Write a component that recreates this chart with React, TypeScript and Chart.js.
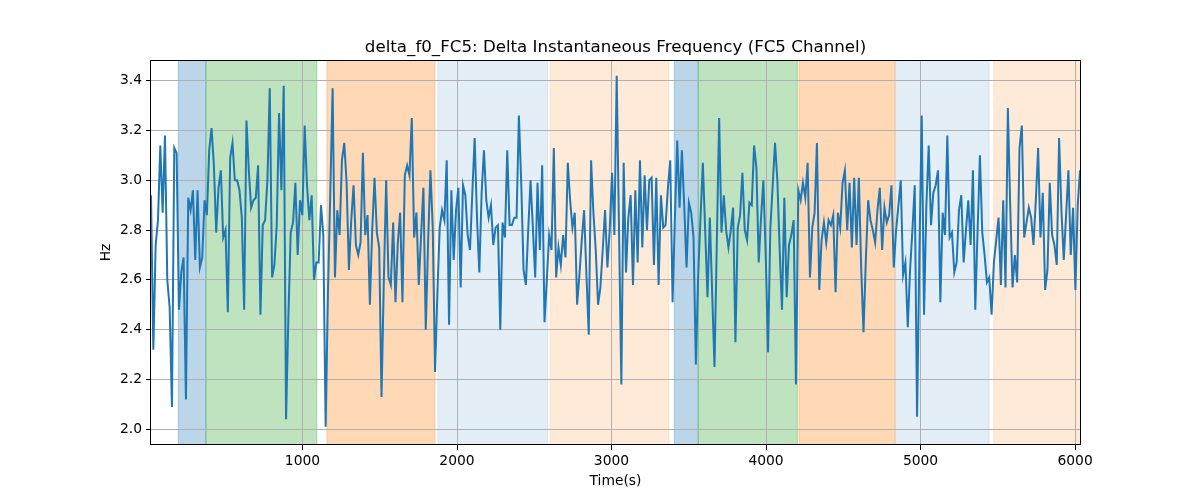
import React, { useEffect, useRef } from 'react';
import { Chart, registerables } from 'chart.js';

Chart.register(...registerables);

const TITLE = 'delta_f0_FC5: Delta Instantaneous Frequency (FC5 Channel)';
const X_LABEL = 'Time(s)';
const Y_LABEL = 'Hz';

// sampling grid of the signal (seconds)
const T_START = 19.4;
const T_STEP = 15.07;
const X_MIN = 19.4;
const X_MAX = 6032;
const Y_MIN = 1.937;
const Y_MAX = 3.483;

const deltaF0 = [
  2.94, 2.32, 2.74, 2.84, 3.14, 2.87, 3.18, 2.60, 2.49, 2.09,
  3.13, 3.11, 2.48, 2.63, 2.69, 2.12, 2.93, 2.88, 2.96, 2.68,
  2.96, 2.65, 2.69, 2.92, 2.86, 3.12, 3.21, 3.06, 2.79, 2.97,
  3.04, 2.77, 2.80, 2.47, 3.09, 3.15, 3.00, 3.00, 2.96, 2.85,
  2.48, 3.24, 3.04, 2.89, 2.92, 2.93, 3.06, 2.46, 2.82, 2.84,
  3.00,
  3.37, 2.61, 2.66, 2.82, 3.27, 2.96, 3.38, 2.04, 2.45, 2.79,
  2.83, 2.99, 2.70, 2.92, 2.86, 3.22, 2.98, 2.84, 2.94, 2.60,
  2.67, 2.67, 2.90, 2.78, 2.01, 2.55, 2.95, 3.37, 2.61, 2.88,
  2.78, 3.08, 3.15, 2.99, 2.64, 2.84, 2.98, 2.74, 2.70, 2.75,
  3.11, 2.78, 2.86, 2.50, 2.80, 3.01, 2.79, 2.73, 2.13, 2.60,
  3.00,
  2.61, 2.58, 2.83, 2.51, 2.75, 2.87, 2.51, 3.02, 3.06, 3.02,
  3.25, 2.77, 2.87, 2.58, 2.78, 2.97, 2.40, 2.75, 3.04, 2.81,
  2.23, 2.55, 2.81, 2.88, 2.84, 3.08, 2.42, 2.96, 2.68, 2.88,
  2.97, 2.57, 2.98, 2.94, 2.78, 2.72, 2.95, 3.17, 2.85, 2.63,
  2.95, 3.12, 2.92, 2.85, 2.90, 2.74, 2.81, 2.82, 2.40, 2.83,
  2.77, 3.12, 2.82, 2.82, 2.85, 2.85, 3.26, 2.99, 2.64, 2.58,
  2.80, 3.00, 2.81, 2.61, 2.99, 2.72, 3.06, 2.43, 2.60, 2.78,
  2.72, 3.13, 2.61, 2.73, 2.66, 2.78, 2.69, 3.07, 2.92, 2.81,
  2.87, 2.50,
  2.62, 2.76, 2.88, 2.62, 2.38, 3.08, 2.87, 2.72, 2.50, 2.57,
  2.72, 2.88, 2.65, 2.80, 3.03, 2.78, 3.42, 2.80, 2.18, 3.07,
  2.63, 2.85, 2.94, 2.58, 2.96, 2.67, 3.08, 2.73, 3.02, 2.80,
  3.00, 3.01, 2.66, 3.01, 2.58, 2.94, 2.81, 2.82, 2.97, 3.08,
  2.51, 2.85, 3.16,
  2.89, 3.12, 2.90, 2.65, 2.91, 2.87, 2.77, 2.26, 2.62, 2.85,
  3.07, 2.80, 2.53, 2.85, 2.55, 2.25, 2.75, 3.25, 2.79, 2.94,
  2.80, 2.73, 2.80, 2.89, 2.35, 2.81, 2.86, 3.03, 2.80, 2.76,
  2.91, 2.90, 3.14, 3.05, 2.67, 2.85, 3.00, 2.70, 2.31, 2.81,
  2.98, 3.15, 3.00, 2.72, 2.48, 2.93, 2.53,
  2.74, 2.78, 2.84, 2.18, 2.96, 2.92, 2.99, 2.93, 3.07, 2.61,
  2.81, 2.87, 3.15, 2.56, 2.76, 2.83, 2.75, 2.84, 2.82, 2.86,
  2.55, 2.87, 2.81, 2.99, 3.04, 2.80, 2.99, 2.73, 3.01, 2.74,
  3.01, 2.65, 2.39, 2.68, 2.92, 2.84, 2.80, 2.75, 2.88, 2.97,
  2.72, 2.89, 2.83, 2.86, 2.98, 2.65, 2.80, 2.90, 3.00, 2.62,
  2.67, 2.41, 2.64, 2.80, 2.98, 2.05, 2.70, 3.26, 2.46, 2.90,
  3.14, 2.82, 2.95, 2.98, 3.04, 2.51, 2.87, 2.78, 3.18, 2.77,
  2.79, 2.63, 2.67, 2.88, 2.94, 2.67, 2.80, 2.92, 2.74, 3.04,
  2.48, 2.80, 3.10,
  2.79, 2.70, 2.59, 2.61, 2.46, 2.67, 2.76, 2.85, 2.58, 2.92,
  2.57, 3.29, 2.90, 2.57, 2.70, 2.59, 3.13, 3.22, 2.77, 2.83,
  2.89, 2.85, 2.74, 2.92, 3.13, 2.77, 2.95, 2.56, 2.64, 2.99,
  2.78, 2.74, 2.66, 3.17, 2.88, 2.68, 2.86, 3.04, 2.70, 2.89,
  2.56, 2.90, 3.04,
];

const xTicks = [1000, 2000, 3000, 4000, 5000, 6000];
const yTicks = [2.0, 2.2, 2.4, 2.6, 2.8, 3.0, 3.2, 3.4];

// shaded segments
const spanStart = [196, 375, 1158, 1876, 2602, 3406, 3561, 4213, 4838, 5474];
const spanEnd = [375, 1093, 1858, 2587, 3372, 3561, 4203, 4834, 5444, 6100];
const spanKind = ['blue', 'green', 'orange', 'lightblue', 'lightorange', 'blue', 'green', 'orange', 'lightblue', 'lightorange'];

const spanColors: Record<string, string> = {
  blue: 'rgba(31,119,180,0.3)',
  green: 'rgba(44,160,44,0.3)',
  orange: 'rgba(255,127,14,0.3)',
  lightblue: 'rgba(31,119,180,0.12)',
  lightorange: 'rgba(255,127,14,0.16)',
};

const FONT = 'DejaVu Sans';

const spansPlugin = {
  id: 'spans',
  beforeDraw(chart: any) {
    const { ctx, chartArea, scales } = chart;
    ctx.save();
    ctx.fillStyle = '#fff';
    ctx.fillRect(0, 0, chart.width, chart.height);
    ctx.beginPath();
    ctx.rect(chartArea.left, chartArea.top, chartArea.right - chartArea.left, chartArea.bottom - chartArea.top);
    ctx.clip();
    for (let i = 0; i < spanStart.length; i++) {
      const x0 = scales.x.getPixelForValue(spanStart[i]);
      const x1 = scales.x.getPixelForValue(spanEnd[i]);
      const c = spanColors[spanKind[i]];
      ctx.fillStyle = c;
      ctx.fillRect(x0, chartArea.top, x1 - x0, chartArea.bottom - chartArea.top);
      ctx.strokeStyle = c;
      ctx.lineWidth = 1;
      ctx.strokeRect(x0, chartArea.top, x1 - x0, chartArea.bottom - chartArea.top);
    }
    ctx.restore();
  },
  afterDraw(chart: any) {
    const { ctx, chartArea } = chart;
    ctx.save();
    ctx.strokeStyle = '#000';
    ctx.lineWidth = 1;
    ctx.strokeRect(
      Math.round(chartArea.left) - 0.5,
      Math.round(chartArea.top) + 0.5,
      Math.round(chartArea.right - chartArea.left) + 1,
      Math.round(chartArea.bottom - chartArea.top) - 1
    );
    const cx = (chartArea.left + chartArea.right) / 2;
    ctx.fillStyle = '#000';
    ctx.textAlign = 'center';
    ctx.textBaseline = 'alphabetic';
    ctx.font = `16.67px "${FONT}"`;
    ctx.fillText(TITLE, cx, 52);
    ctx.textBaseline = 'middle';
    ctx.font = `13.89px "${FONT}"`;
    ctx.fillText(X_LABEL, cx, 481);
    ctx.translate(106, (chartArea.top + chartArea.bottom) / 2);
    ctx.rotate(-Math.PI / 2);
    ctx.fillText(Y_LABEL, 0, 0);
    ctx.restore();
  },
};

const DeltaF0Chart = () => {
  const chartRef = useRef<HTMLCanvasElement | null>(null);

  useEffect(() => {
    if (!chartRef.current) return;
    const ctx = chartRef.current.getContext('2d');
    if (!ctx) return;

    Chart.defaults.font.family = FONT;
    Chart.defaults.font.size = 13.89;
    Chart.defaults.color = '#000';

    const points = deltaF0.map((v, i) => ({ x: T_START + i * T_STEP, y: v }));

    const myChart = new Chart(ctx, {
      type: 'line',
      data: {
        datasets: [{
          label: 'delta_f0_FC5',
          data: points,
          borderColor: '#1f77b4',
          borderWidth: 2,
          pointRadius: 0,
          tension: 0,
          fill: false,
        }],
      },
      options: {
        responsive: false,
        animation: false,
        devicePixelRatio: 1,
        layout: { padding: { left: 0, right: 120, top: 60, bottom: 0 } },
        plugins: {
          legend: { display: false },
          title: { display: false },
          tooltip: { enabled: false },
        },
        scales: {
          x: {
            type: 'linear',
            min: X_MIN,
            max: X_MAX,
            afterBuildTicks: (axis: any) => { axis.ticks = xTicks.map((v) => ({ value: v })); },
            afterFit: (axis: any) => { axis.height = 55; },
            ticks: { autoSkip: false, maxRotation: 0, padding: 3, callback: (v: any) => String(v) },
            grid: { color: '#b0b0b0', lineWidth: 1, tickLength: 5, tickColor: '#000' },
            border: { display: false },
          },
          y: {
            type: 'linear',
            min: Y_MIN,
            max: Y_MAX,
            afterBuildTicks: (axis: any) => { axis.ticks = yTicks.map((v) => ({ value: v })); },
            afterFit: (axis: any) => { axis.width = 151; },
            ticks: { autoSkip: false, padding: 4, callback: (v: any) => Number(v).toFixed(1) },
            grid: { color: '#b0b0b0', lineWidth: 1, tickLength: 5, tickColor: '#000' },
            border: { display: false },
          },
        },
      },
      plugins: [spansPlugin],
    });

    return () => {
      myChart.destroy();
    };
  }, []);

  return (
    <div style={{ position: 'absolute', left: 0, top: 0, width: 1200, height: 500, background: '#fff' }}>
      <canvas ref={chartRef} width={1200} height={500} style={{ width: 1200, height: 500 }}></canvas>
    </div>
  );
};

export default function App() {
  return <DeltaF0Chart />;
}
